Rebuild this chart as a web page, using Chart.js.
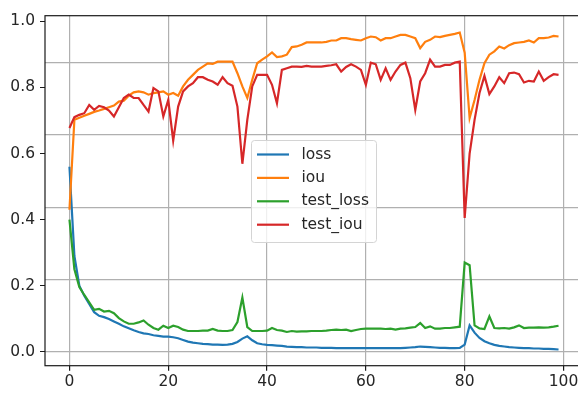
<!DOCTYPE html>
<html>
<head>
<meta charset="utf-8">
<script src="https://cdn.jsdelivr.net/npm/chart.js@4"></script>
<style>
  html, body { margin: 0; padding: 0; background: #fff; overflow: hidden; }
  #wrap { width: 590px; height: 394px; }
</style>
</head>
<body>
<div id="wrap"><canvas id="chart" width="590" height="394"></canvas></div>
<script>
const epochs = Array.from({ length: 100 }, (_, i) => i);

const loss = [
  0.56, 0.29, 0.20, 0.17, 0.145, 0.12, 0.109, 0.105, 0.099, 0.092,
  0.085, 0.077, 0.071, 0.065, 0.060, 0.056, 0.054, 0.050, 0.048, 0.046,
  0.046, 0.044, 0.041, 0.036, 0.031, 0.028, 0.026, 0.024, 0.023, 0.022,
  0.022, 0.021, 0.022, 0.024, 0.030, 0.040, 0.047, 0.035, 0.026, 0.023,
  0.021, 0.020, 0.019, 0.018, 0.016, 0.015, 0.014, 0.014, 0.013, 0.013,
  0.013, 0.012, 0.012, 0.012, 0.011, 0.011, 0.011, 0.011, 0.011, 0.011,
  0.011, 0.011, 0.011, 0.011, 0.011, 0.011, 0.011, 0.011, 0.012, 0.013,
  0.014, 0.016, 0.015, 0.014, 0.013, 0.012, 0.012, 0.011, 0.011, 0.012,
  0.022, 0.080, 0.058, 0.042, 0.032, 0.026, 0.021, 0.018, 0.016, 0.014,
  0.013, 0.012, 0.011, 0.011, 0.010, 0.010, 0.009, 0.009, 0.008, 0.007
];

const iou = [
  0.43, 0.702, 0.708, 0.714, 0.72, 0.726, 0.73, 0.735, 0.74, 0.745,
  0.757, 0.76, 0.775, 0.785, 0.788, 0.785, 0.778, 0.783, 0.785, 0.788,
  0.778, 0.783, 0.775, 0.803, 0.823, 0.838, 0.853, 0.863, 0.873, 0.871,
  0.878, 0.878, 0.878, 0.878, 0.843, 0.803, 0.768, 0.823, 0.873, 0.884,
  0.894, 0.906, 0.892, 0.894, 0.899, 0.922, 0.924, 0.929, 0.936, 0.936,
  0.936, 0.936, 0.938, 0.942, 0.942, 0.949, 0.949, 0.946, 0.944, 0.942,
  0.949, 0.954, 0.952, 0.942, 0.949, 0.949, 0.954, 0.959, 0.959, 0.954,
  0.949, 0.919, 0.938, 0.944, 0.954, 0.952, 0.956, 0.959, 0.962, 0.966,
  0.905, 0.707, 0.762, 0.823, 0.873, 0.899, 0.909, 0.924, 0.918, 0.928,
  0.934, 0.936, 0.938, 0.942, 0.936, 0.949, 0.949, 0.951, 0.956, 0.954
];

const testLoss = [
  0.40, 0.25, 0.196, 0.172, 0.15, 0.127, 0.13, 0.122, 0.124, 0.117,
  0.102, 0.092, 0.085, 0.085, 0.089, 0.095, 0.082, 0.072, 0.067, 0.079,
  0.072, 0.079, 0.075, 0.067, 0.063, 0.063, 0.063, 0.064, 0.064, 0.069,
  0.064, 0.063, 0.063, 0.066, 0.09, 0.164, 0.075, 0.063, 0.063, 0.063,
  0.064, 0.072, 0.066, 0.064, 0.06, 0.063, 0.061, 0.062, 0.062, 0.063,
  0.063, 0.063, 0.064, 0.066, 0.067, 0.066, 0.067, 0.063, 0.066, 0.069,
  0.07, 0.07, 0.07, 0.07, 0.069, 0.07, 0.067, 0.07, 0.071, 0.073,
  0.075, 0.087, 0.072, 0.077, 0.07, 0.07, 0.072, 0.072, 0.074, 0.076,
  0.27, 0.262, 0.08, 0.071, 0.069, 0.107, 0.072, 0.071, 0.072, 0.07,
  0.074, 0.08, 0.072, 0.073, 0.073, 0.074, 0.073, 0.074, 0.076, 0.079
];

const testIou = [
  0.677, 0.71, 0.717, 0.722, 0.747, 0.732, 0.744, 0.74, 0.73, 0.712,
  0.74, 0.768, 0.778, 0.768, 0.768, 0.747, 0.727, 0.798, 0.788, 0.712,
  0.762, 0.639, 0.742, 0.788, 0.803, 0.813, 0.831, 0.831, 0.823, 0.818,
  0.808, 0.831, 0.813, 0.805, 0.742, 0.569, 0.702, 0.803, 0.838, 0.838,
  0.838, 0.808, 0.752, 0.853, 0.858, 0.863, 0.863, 0.862, 0.865, 0.863,
  0.863, 0.863, 0.865, 0.867, 0.87, 0.848, 0.862, 0.87, 0.863, 0.853,
  0.808, 0.875, 0.87, 0.823, 0.858, 0.823, 0.848, 0.868, 0.875, 0.828,
  0.732, 0.818, 0.843, 0.884, 0.863, 0.863, 0.868, 0.868, 0.875, 0.878,
  0.405, 0.60, 0.702, 0.783, 0.835, 0.78, 0.803, 0.831, 0.813, 0.843,
  0.845, 0.84, 0.815, 0.82, 0.818, 0.848, 0.82, 0.831, 0.84, 0.838
];

const xTicks = [0, 20, 40, 60, 80, 100];
const yTicks = [0.0, 0.2, 0.4, 0.6, 0.8, 1.0];
// horizontal grid levels (these don't line up with the y ticks)
const gridLevels = [0, 0.2195, 0.4375, 0.657, 0.875];

const FONT = { family: 'DejaVu Sans', size: 15.5 };
const TEXT = '#262626';

// spines on all four sides plus a matplotlib-style legend box inside the axes
const frameAndLegend = {
  id: 'frameAndLegend',
  afterDatasetsDraw(chart) {
    const { ctx, chartArea: a } = chart;
    ctx.save();
    ctx.strokeStyle = '#1a1a1a';
    ctx.lineWidth = 1.2;
    ctx.strokeRect(a.left, a.top, a.right - a.left, a.bottom - a.top);

    const bx = 251, by = 140, bw = 125, bh = 102;
    ctx.beginPath();
    ctx.roundRect(bx + 0.5, by + 0.5, bw, bh, 3);
    ctx.fillStyle = 'rgba(255,255,255,0.8)';
    ctx.fill();
    ctx.strokeStyle = '#d4d4d4';
    ctx.lineWidth = 1;
    ctx.stroke();

    ctx.font = `${FONT.size}px ${FONT.family}`;
    ctx.textBaseline = 'middle';
    ctx.fillStyle = TEXT;
    chart.data.datasets.forEach((ds, i) => {
      const y = 154.5 + i * 23.4;
      ctx.beginPath();
      ctx.moveTo(257, y);
      ctx.lineTo(289, y);
      ctx.strokeStyle = ds.borderColor;
      ctx.lineWidth = 2.2;
      ctx.stroke();
      ctx.fillText(ds.label, 301.5, y);
    });
    ctx.restore();
  }
};

const line = (label, data, color, order) => ({
  label, data, order,
  borderColor: color,
  borderWidth: 2.2,
  pointRadius: 0,
  tension: 0,
  fill: false
});

new Chart(document.getElementById('chart'), {
  type: 'line',
  data: {
    labels: epochs,
    datasets: [
      line('loss', loss, '#1f77b4', 4),
      line('iou', iou, '#ff7f0e', 3),
      line('test_loss', testLoss, '#2ca02c', 2),
      line('test_iou', testIou, '#d62728', 1)
    ]
  },
  options: {
    responsive: false,
    animation: false,
    devicePixelRatio: 1,
    layout: { padding: { top: 15.7, right: 7, left: 0, bottom: 0 } },
    font: FONT,
    plugins: {
      legend: { display: false },
      tooltip: { enabled: false }
    },
    scales: {
      x: {
        type: 'linear',
        min: -4.95,
        max: 103.95,
        afterBuildTicks: s => { s.ticks = xTicks.map(v => ({ value: v })); },
        afterFit: s => { s.height = 28.3; },
        border: { display: false },
        grid: { color: '#b0b0b0', lineWidth: 1.2, tickColor: '#1a1a1a', tickLength: 5 },
        ticks: { color: TEXT, font: FONT, padding: 2, maxRotation: 0 }
      },
      y: {
        type: 'linear',
        min: -0.042,
        max: 1.017,
        afterBuildTicks: s => { s.ticks = yTicks.map(v => ({ value: v })); },
        afterFit: s => { s.width = 45; },
        border: { display: false },
        grid: { drawOnChartArea: false, color: '#1a1a1a', tickLength: 5 },
        ticks: { color: TEXT, font: FONT, padding: 5, callback: v => v.toFixed(1) }
      },
      yGrid: {
        type: 'linear',
        position: 'left',
        min: -0.042,
        max: 1.017,
        afterBuildTicks: s => { s.ticks = gridLevels.map(v => ({ value: v })); },
        afterFit: s => { s.width = 0; },
        border: { display: false },
        grid: { color: '#b0b0b0', lineWidth: 1.2, drawTicks: false },
        ticks: { display: false }
      }
    }
  },
  plugins: [frameAndLegend]
});
</script>
</body>
</html>
